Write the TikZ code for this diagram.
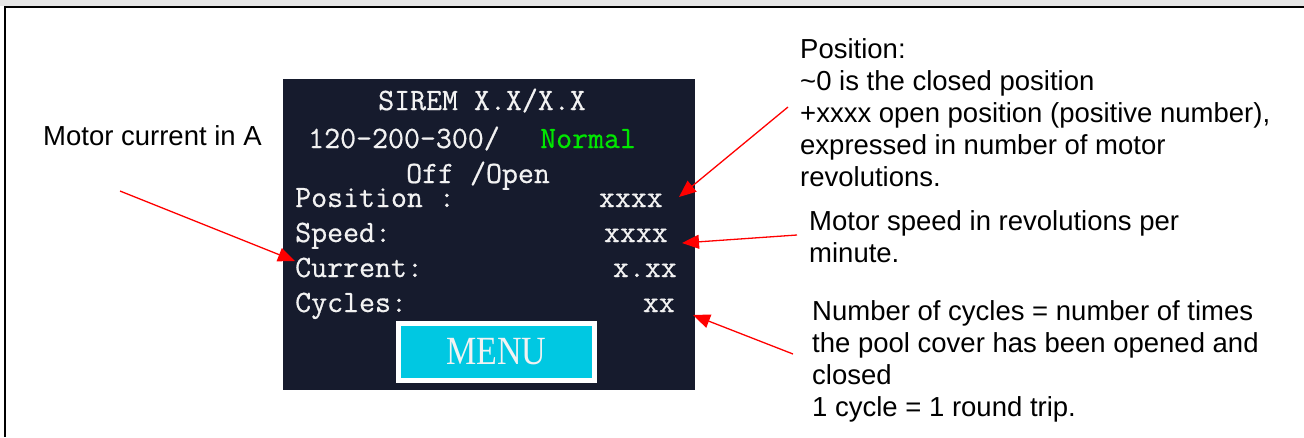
\documentclass[tikz,border=0pt]{standalone}
\usepackage{fontspec}
\setmainfont{Liberation Sans}
\newfontfamily\menufont{Liberation Serif}
\newfontfamily\scrfont[FakeBold=0.6]{Latin Modern Mono}
\usetikzlibrary{arrows.meta}
\definecolor{screenbg}{HTML}{161B2D}
\definecolor{okgreen}{HTML}{00E600}
\definecolor{menucyan}{HTML}{00C8E2}
\definecolor{topgray}{HTML}{E6E6E6}
\definecolor{scrtext}{HTML}{F2F2F2}
\tikzset{
  note/.style={anchor=base west, inner sep=0pt, font=\fontsize{27.5}{32}\selectfont},
  scr/.style={inner sep=0pt, text=scrtext, font=\fontsize{31}{35}\scrfont\bfseries},
  scrl/.style={scr, anchor=base west},
  scrr/.style={scr, anchor=base east},
  redarrow/.style={draw=red, line width=1.3pt, -{Triangle[length=17pt,width=14pt]}, red},
}
\begin{document}
\begin{tikzpicture}[x=1pt,y=-1pt]
\useasboundingbox (0,0) rectangle (1304,437);
% frame
\fill[topgray] (0,0) rectangle (1304,6);
\draw[line width=2pt] (4,7) -- (1304,7);
\draw[line width=2pt] (5,6) -- (5,437);
% screen
\node[fill=screenbg, minimum width=412pt, minimum height=311pt, inner sep=0pt] (screen) at (489,234.5) {};
\node[scrl] (title) at (378,110) {SIREM X.X/X.X};
\node[scrl] (model) at (308,148) {120-200-300/};
\node[scrl, text=okgreen] (mode) at (540,148) {Normal};
\node[scrl] (state) at (406,183) {Off /Open};
\node[scrl] (posl) at (295,207) {Position :};
\node[scrr] (posv) at (663,207) {xxxx};
\node[scrl] (spdl) at (295,242) {Speed:};
\node[scrr] (spdv) at (668,242) {xxxx};
\node[scrl] (curl) at (295,277) {Current:};
\node[scrr] (curv) at (677,277) {x.xx};
\node[scrl] (cycl) at (295,312) {Cycles:};
\node[scrr] (cycv) at (675,312) {xx};
\node[fill=menucyan, draw=white, line width=5pt, minimum width=196pt, minimum height=57pt, inner sep=0pt, text=scrtext, font=\fontsize{40}{41}\menufont] (menu) at (496.5,352) {\scalebox{0.85}[1]{MENU}};
% annotations
\node[note] (ncur) at (43,145) {Motor current in A};
\node[note] (npos) at (800,58) {\parbox[t]{500pt}{\raggedright Position:\\ \textasciitilde0 is the closed position\\ +xxxx open position (positive number),\\ expressed in number of motor\\ revolutions.}};
\node[note] (nspd) at (809,230) {\parbox[t]{480pt}{\raggedright Motor speed in revolutions per\\ minute.}};
\node[note] (ncyc) at (812,320) {\parbox[t]{480pt}{\raggedright Number of cycles = number of times\\ the pool cover has been opened and\\ closed\\ 1 cycle = 1 round trip.}};
% arrow ends
\coordinate (a1s) at (788,107);
\coordinate (a1e) at (679,197);
\coordinate (a2s) at (797,235);
\coordinate (a2e) at (682,243);
\coordinate (a3s) at (793,354);
\coordinate (a3e) at (693,315);
\coordinate (a4s) at (120,191);
\coordinate (a4e) at (295,261);
\draw[redarrow] (a1s) -- (a1e);
\draw[redarrow] (a2s) -- (a2e);
\draw[redarrow] (a3s) -- (a3e);
\draw[redarrow] (a4s) -- (a4e);
\end{tikzpicture}
\end{document}
